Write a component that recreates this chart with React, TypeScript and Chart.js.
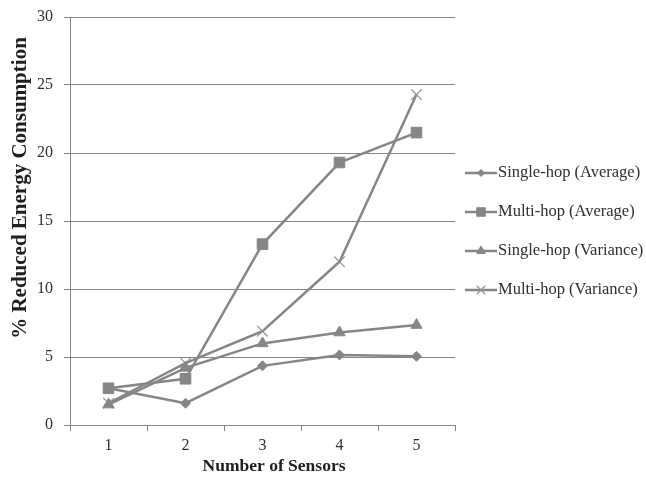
import React, { useEffect, useRef } from "react";
import { Chart, registerables } from "chart.js";
import { drawPoint } from "chart.js/helpers";

Chart.register(...registerables);

const categories = ["1", "2", "3", "4", "5"];
const singleHopAvg = [2.7, 1.6, 4.35, 5.15, 5.05];
const multiHopAvg = [2.7, 3.4, 13.3, 19.3, 21.5];
const singleHopVar = [1.5, 4.2, 6.0, 6.8, 7.35];
const multiHopVar = [1.6, 4.55, 6.9, 12.0, 24.3];
const seriesLabels = [
  "Single-hop (Average)",
  "Multi-hop (Average)",
  "Single-hop (Variance)",
  "Multi-hop (Variance)",
];
const xTitle = "Number of Sensors";
const yTitle = "% Reduced Energy Consumption";

const GRAY = "#868686";
const FONT = "'Liberation Serif', 'Times New Roman', serif";

const decorPlugin = {
  id: "decor",
  afterDraw(chart: any) {
    const ctx = chart.ctx;
    const x0 = 465;
    const ys = [173, 212, 251, 290];
    chart.data.datasets.forEach((ds: any, i: number) => {
      const y = ys[i];
      ctx.save();
      ctx.strokeStyle = GRAY;
      ctx.lineWidth = 2.5;
      ctx.beginPath();
      ctx.moveTo(x0, y);
      ctx.lineTo(x0 + 32, y);
      ctx.stroke();
      const meta = chart.getDatasetMeta(i);
      const pt = meta.data[0];
      if (pt) {
        const opts = pt.options;
        ctx.fillStyle = opts.backgroundColor;
        ctx.strokeStyle = opts.borderColor;
        ctx.lineWidth = opts.borderWidth;
        drawPoint(ctx, { ...opts, radius: opts.radius - 1.5 }, x0 + 16, y);
      }
      ctx.fillStyle = "#303030";
      ctx.font = `16.5px ${FONT}`;
      ctx.textBaseline = "middle";
      ctx.textAlign = "left";
      ctx.fillText(ds.label, x0 + 33, y);
      ctx.restore();
    });
    // axis titles
    ctx.save();
    ctx.fillStyle = "#202020";
    ctx.textAlign = "center";
    ctx.textBaseline = "middle";
    ctx.font = `bold 17.5px ${FONT}`;
    ctx.fillText(xTitle, 274, 466);
    ctx.translate(21, 188);
    ctx.rotate(-Math.PI / 2);
    ctx.font = `bold 21px ${FONT}`;
    ctx.fillText(yTitle, 0, 0);
    ctx.restore();
  },
};

export default function App() {
  const ref = useRef<HTMLCanvasElement>(null);
  useEffect(() => {
    if (!ref.current) return;
    const mk = (label: string, data: number[], style: string, radius: number, extra: any = {}) => ({
      label,
      data,
      borderColor: GRAY,
      backgroundColor: GRAY,
      borderWidth: 2.5,
      pointStyle: style,
      pointRadius: radius,
      pointBackgroundColor: GRAY,
      pointBorderColor: GRAY,
      pointBorderWidth: 1,
      tension: 0,
      ...extra,
    });
    const chart = new Chart(ref.current, {
      type: "line",
      data: {
        labels: categories,
        datasets: [
          mk(seriesLabels[0], singleHopAvg, "rectRot", 5),
          mk(seriesLabels[1], multiHopAvg, "rect", 7.5),
          mk(seriesLabels[2], singleHopVar, "triangle", 6.5),
          mk(seriesLabels[3], multiHopVar, "crossRot", 7.5, {
            pointBorderColor: "#939393",
            pointBorderWidth: 1.2,
          }),
        ],
      },
      options: {
        animation: false,
        responsive: false,
        devicePixelRatio: 1,
        layout: { autoPadding: false, padding: { left: 0, top: 17, right: 191, bottom: 0 } },
        plugins: {
          legend: { display: false },
          tooltip: { enabled: false },
        },
        scales: {
          x: {
            offset: true,
            grid: {
              offset: true,
              drawOnChartArea: false,
              drawTicks: true,
              tickLength: 6,
              color: GRAY,
            },
            border: { color: GRAY, width: 1 },
            ticks: { color: "#303030", font: { family: FONT, size: 16 }, padding: 5 },
            afterFit: (s: any) => {
              s.height = 57;
              s.paddingLeft = 0;
              s.paddingRight = 0;
            },
          },
          y: {
            min: 0,
            max: 30,
            ticks: { stepSize: 5, color: "#303030", font: { family: FONT, size: 16 }, padding: 11 },
            grid: { color: GRAY, tickLength: 6, lineWidth: 1 },
            border: { color: GRAY, width: 1 },
            afterFit: (s: any) => {
              s.width = 70;
              s.paddingTop = 0;
              s.paddingBottom = 0;
            },
          },
        },
      },
      plugins: [decorPlugin],
    } as any);
    return () => chart.destroy();
  }, []);
  return (
    <div style={{ position: "fixed", left: 0, top: 0, width: 646, height: 482, background: "#fff" }}>
      <canvas ref={ref} width={646} height={482} />
    </div>
  );
}
